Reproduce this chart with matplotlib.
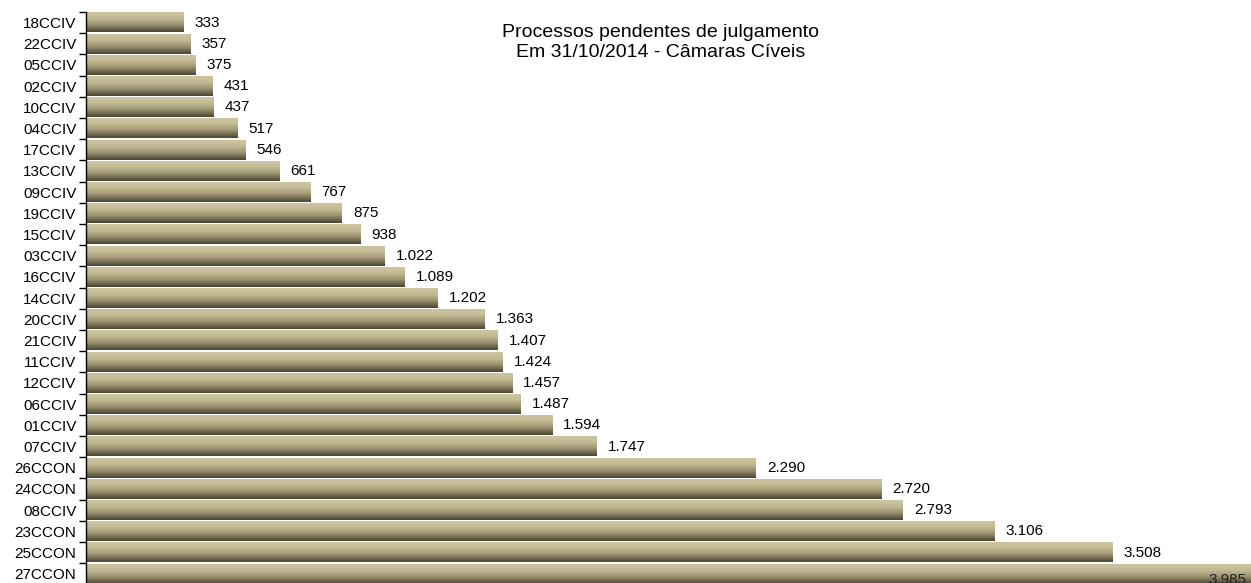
import numpy as np
import matplotlib.pyplot as plt
from matplotlib.colors import LinearSegmentedColormap

plt.rcParams['font.family'] = ['Liberation Sans', 'DejaVu Sans']

# data, top to bottom
camaras = ["18CCIV", "22CCIV", "05CCIV", "02CCIV", "10CCIV", "04CCIV", "17CCIV",
           "13CCIV", "09CCIV", "19CCIV", "15CCIV", "03CCIV", "16CCIV", "14CCIV",
           "20CCIV", "21CCIV", "11CCIV", "12CCIV", "06CCIV", "01CCIV", "07CCIV",
           "26CCON", "24CCON", "08CCIV", "23CCON", "25CCON", "27CCON"]
pendentes = [333, 357, 375, 431, 437, 517, 546, 661, 767, 875, 938, 1022, 1089,
             1202, 1363, 1407, 1424, 1457, 1487, 1594, 1747, 2290, 2720, 2793,
             3106, 3508, 3985]

W, H = 1251, 583
fig = plt.figure(figsize=(W / 100, H / 100), dpi=100)
n = len(camaras)
pitch = 21.2
ax = fig.add_axes([86 / W, (H - 12 - n * pitch) / H, 1165 / W, n * pitch / H])

y = np.arange(n)
bh = 0.92
bars = ax.barh(y, pendentes, height=bh, color='none', edgecolor='none')

# vertical gradient on every bar
cmap = LinearSegmentedColormap.from_list("tan", [
    (0.0, "#cdc5a1"), (0.3, "#c3ba95"), (0.6, "#9f9674"), (0.85, "#6c654d"), (1.0, "#48422f")])
grad = np.linspace(0, 1, 64).reshape(-1, 1)
for b in bars:
    x0 = b.get_x()
    x1 = x0 + b.get_width()
    yc = b.get_y() + b.get_height() / 2
    ax.imshow(grad, cmap=cmap, aspect='auto', origin='upper', interpolation='bilinear',
              extent=(x0, x1, yc + bh / 2, yc - bh / 2), zorder=2)

xmax = 3983
ax.set_xlim(0, xmax)
ax.set_ylim(n - 0.5, -0.5)

# value labels
for i, v in enumerate(pendentes):
    txt = f"{v:,}".replace(",", ".")
    if v > xmax * 0.97:
        ax.text(xmax - 15, i + 0.3, txt, ha='right', va='center', fontsize=11,
                color='#222222', zorder=3, clip_on=False)
    else:
        ax.text(v + 38, i, txt, ha='left', va='center', fontsize=11, color='black')

ax.set_yticks(y)
ax.set_yticklabels(camaras, fontsize=11)
ax.set_yticks(np.arange(-0.5, n, 1.0), minor=True)
ax.tick_params(axis='y', which='major', length=0, pad=7)
ax.tick_params(axis='y', which='minor', length=5, width=1, direction='out')
ax.set_xticks([])
for s in ['top', 'right', 'bottom']:
    ax.spines[s].set_visible(False)
ax.spines['left'].set_linewidth(1)

fig.text(661 / W, 1 - 24 / H, "Processos pendentes de julgamento\nEm 31/10/2014 - Câmaras Cíveis",
         ha='center', va='top', fontsize=14, linespacing=1.2)

fig.savefig("out.png", dpi=100)
